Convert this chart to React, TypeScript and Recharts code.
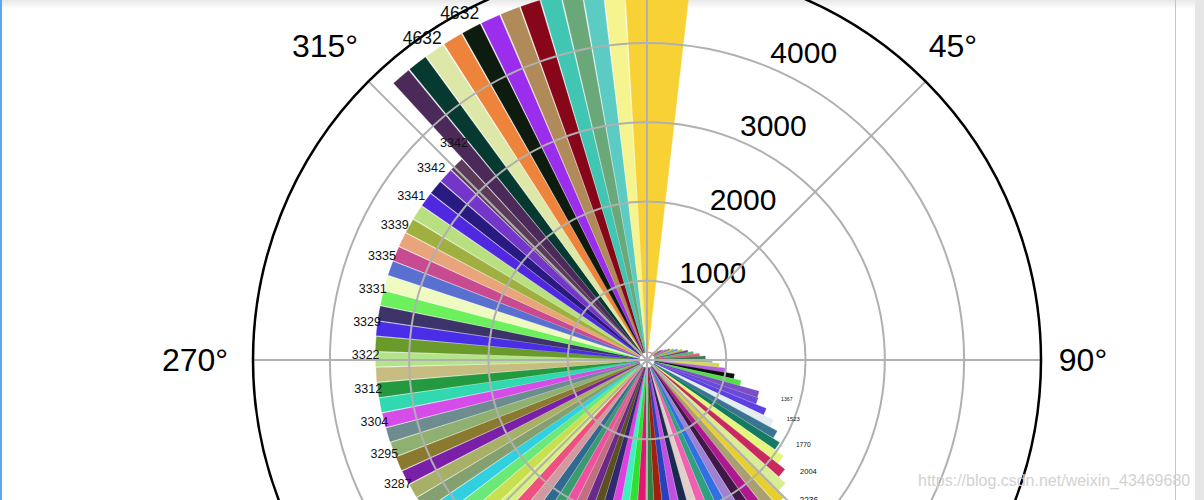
import React from "react";
import {
  RadialBarChart,
  RadialBar,
  RadarChart,
  PolarAngleAxis,
  PolarRadiusAxis,
  PolarGrid,
  LabelList,
  Cell,
  Sector,
} from "recharts";

// one bar per day, 2020-01-09 .. 2020-04-29
const dates: string[] = [
  "01-09", "01-10", "01-11", "01-12", "01-13", "01-14", "01-15", "01-16", "01-17", "01-18",
  "01-19", "01-20", "01-21", "01-22", "01-23", "01-24", "01-25", "01-26", "01-27", "01-28",
  "01-29", "01-30", "01-31",
  "02-01", "02-02", "02-03", "02-04", "02-05", "02-06", "02-07", "02-08", "02-09", "02-10",
  "02-11", "02-12", "02-13", "02-14", "02-15", "02-16", "02-17", "02-18", "02-19", "02-20",
  "02-21", "02-22", "02-23", "02-24", "02-25", "02-26", "02-27", "02-28", "02-29",
  "03-01", "03-02", "03-03", "03-04", "03-05", "03-06", "03-07", "03-08", "03-09", "03-10",
  "03-11", "03-12", "03-13", "03-14", "03-15", "03-16", "03-17", "03-18", "03-19", "03-20",
  "03-21", "03-22", "03-23", "03-24", "03-25", "03-26", "03-27", "03-28", "03-29", "03-30",
  "03-31",
  "04-01", "04-02", "04-03", "04-04", "04-05", "04-06", "04-07", "04-08", "04-09", "04-10",
  "04-11", "04-12", "04-13", "04-14", "04-15", "04-16", "04-17", "04-18", "04-19", "04-20",
  "04-21", "04-22", "04-23", "04-24", "04-25", "04-26", "04-27", "04-28", "04-29",
];

// cumulative deaths
const deaths: number[] = [
  1, 1, 1, 1, 1, 1, 2, 2, 2, 3,
  3, 6, 9, 17, 25, 41, 56, 80, 106, 132,
  170, 213, 259,
  304, 361, 425, 490, 563, 636, 722, 811, 908, 1016,
  1113, 1367, 1380, 1523, 1665, 1770, 1868, 2004, 2118, 2236,
  2345, 2442, 2592, 2663, 2715, 2744, 2788, 2835, 2870,
  2912, 2943, 2981, 3012, 3042, 3070, 3097, 3119, 3136, 3158,
  3169, 3176, 3189, 3199, 3213, 3226, 3237, 3245, 3248, 3255,
  3261, 3270, 3277, 3281, 3287, 3292, 3295, 3300, 3304, 3309,
  3312,
  3318, 3322, 3326, 3329, 3331, 3331, 3333, 3335, 3336, 3339,
  3339, 3341, 3341, 3342, 3342, 3342, 4632, 4632, 4632, 4632,
  4632, 4632, 4632, 4632, 4633, 4633, 4633, 4633, 4633,
];

const barColors: string[] = [
  "#7fc97f", "#beaed4", "#fdc086", "#386cb0", "#f0027f", "#bf5b17", "#666666", "#1b9e77", "#d95f02", "#7570b3",
  "#e7298a", "#66a61e", "#e6ab02", "#a6761d", "#4a7fd0", "#c44e8a", "#2aa8a0", "#8ad04a", "#d04a4a", "#5a3ab0",
  "#e07ad0", "#2e8f6a", "#f0a040", "#3aa0e0", "#c0c040", "#7a3a90", "#40c070", "#e05a7a", "#3b7d4a", "#9aa8e8",
  "#d2dc52", "#b060e0", "#101010", "#52e048", "#7b4fc4", "#6a4ad6", "#5b40e2", "#e4eef2", "#3a7490", "#157a62",
  "#e4f67c", "#c82a5e", "#d8ec92", "#e6d030", "#a8a070", "#b01890", "#401848", "#a080d0", "#3070e0", "#30a080",
  "#f060b0", "#e0d0c8", "#1a2a50", "#c050e0", "#2a40c0", "#a02010", "#308040", "#e01870", "#30e030", "#40f0c0",
  "#e040e0", "#302870", "#5a5020", "#6a2a8a", "#c07080", "#f050a0", "#3a9a70", "#306a90", "#d09aa0", "#f05080",
  "#d8f080", "#c8e050", "#6ce878", "#30d0e0", "#84a070", "#a8b068", "#7a1fa8", "#8a7a30", "#8fb070", "#6c8c8f",
  "#d64ce8", "#30d9b0", "#239a40", "#c8bd80", "#b4e48a", "#6a9a2a", "#4a2de6", "#3c3468", "#6cf05c", "#eefac0",
  "#5a70d0", "#c84a90", "#e8a47a", "#a0b040", "#b8e080", "#5028e0", "#281a80", "#7436c8", "#5b3a5a", "#4b2a5a",
  "#06392f", "#dde8a8", "#ee843c", "#0e1c10", "#9a2eec", "#b08a58", "#88061a", "#40c6b2", "#6aa87a", "#5ccbc4",
  "#f6f48e", "#f8d234",
];

const radiusTicks = [1000, 2000, 3000, 4000];
const angleTicks = [0, 45, 90, 135, 180, 225, 270, 315];

const FONT = '"Liberation Sans", Arial, sans-serif';
const W = 1204;
const H = 500;
const CX = 647;
const CY = 360;
const OUTER = 394;
const BAR_BOTTOM = 100; // bars start slightly off the centre
const R_MAX = (Math.max(...deaths) + BAR_BOTTOM) * 1.05;
// angular layout of the bars (degrees, clockwise from north)
const BAND = 3.26;
const FIRST_CENTER = -3.84;
const BAR_START = 90 - FIRST_CENTER - BAND / 2;
const BAR_END = BAR_START - BAND * dates.length;
const LAST = dates[dates.length - 1];

const chartData = dates.map((date, i) => ({ date, bottom: BAR_BOTTOM, deaths: deaths[i] }));
const angleData = angleTicks.map((deg) => ({ deg }));

function BarShape(props: any) {
  const { cx, cy, innerRadius, outerRadius, startAngle, endAngle, fill } = props;
  let lo = Math.min(startAngle, endAngle);
  const hi = Math.max(startAngle, endAngle);
  // the newest bar is drawn wider in the original
  if (props.payload?.date === LAST) lo -= (hi - lo) * 2.3;
  return (
    <Sector
      cx={cx}
      cy={cy}
      innerRadius={innerRadius}
      outerRadius={outerRadius}
      startAngle={lo}
      endAngle={hi}
      fill={fill}
      stroke={fill}
      strokeWidth={0.4}
    />
  );
}

function ValueLabel(props: any) {
  const { viewBox, value, index } = props;
  if (!viewBox || index % 2 !== 0) return null;
  const size = value / 265;
  if (size < 4.5) return null;
  const { cx, cy, outerRadius, startAngle, endAngle } = viewBox;
  const mid = (((startAngle + endAngle) / 2) * Math.PI) / 180;
  const r = outerRadius + 24;
  return (
    <text
      x={cx + r * Math.cos(-mid)}
      y={cy + r * Math.sin(-mid)}
      fontSize={size}
      fontFamily={FONT}
      fill="#111"
    >
      {value}
    </text>
  );
}

function AngleTick(props: any) {
  const { x, y, payload } = props;
  return (
    <text x={x - 8} y={y} textAnchor="middle" dominantBaseline="central" fontSize={32} fontFamily={FONT} fill="#000">
      {`${payload.value}°`}
    </text>
  );
}

function RadiusTick(props: any) {
  const { x, y, payload } = props;
  return (
    <text x={x + 2} y={y - 4} textAnchor="start" fontSize={30} fontFamily={FONT} fill="#000">
      {payload.value}
    </text>
  );
}

export default function App() {
  return (
    <div
      style={{
        position: "absolute",
        left: 0,
        top: 0,
        width: W,
        height: H,
        overflow: "hidden",
        background: "#fff",
      }}
    >
      <div style={{ position: "absolute", left: 0, top: 0, width: W, height: 9, background: "linear-gradient(#e8e8e8, #fff)" }} />
      <div style={{ position: "absolute", left: 0, top: 0, width: 2, height: H, background: "#5ea6ee" }} />
      <div style={{ position: "absolute", left: 1175, top: 0, width: 1, height: H, background: "#c4c4c4" }} />
      <div style={{ position: "absolute", left: 1195, top: 0, width: 9, height: H, background: "#e6e6e6" }} />

      {/* bars, radial scale and its circles */}
      <div style={{ position: "absolute", left: 0, top: 0 }}>
        <RadialBarChart
          width={W}
          height={H}
          cx={CX}
          cy={CY}
          innerRadius={0}
          outerRadius={OUTER}
          startAngle={BAR_START}
          endAngle={BAR_END}
          layout="centric"
          data={chartData}
          barCategoryGap={0}
          barGap={0}
          margin={{ top: 0, right: 0, bottom: 0, left: 0 }}
        >
          <PolarAngleAxis angleAxisId="cat" type="category" dataKey="date" tick={false} tickLine={false} axisLine={false} />
          <PolarRadiusAxis
            radiusAxisId="r"
            type="number"
            domain={[0, R_MAX]}
            allowDataOverflow
            ticks={radiusTicks}
            angle={67.5}
            axisLine={false}
            tickLine={false}
            tick={<RadiusTick />}
          />
          <RadialBar
            angleAxisId="cat"
            radiusAxisId="r"
            dataKey="bottom"
            stackId="a"
            fill="transparent"
            isAnimationActive={false}
          />
          <RadialBar
            angleAxisId="cat"
            radiusAxisId="r"
            dataKey="deaths"
            stackId="a"
            shape={BarShape}
            isAnimationActive={false}
          >
            {chartData.map((d, i) => (
              <Cell key={d.date} fill={barColors[i]} />
            ))}
            <LabelList dataKey="deaths" content={ValueLabel} />
          </RadialBar>
          <PolarGrid
            angleAxisId="cat"
            radiusAxisId="r"
            gridType="circle"
            radialLines={false}
            stroke="#b0b0b0"
            strokeWidth={2}
            zIndex={600}
          />
        </RadialBarChart>
      </div>

      {/* degree axis: spokes, outer ring, angle labels */}
      <div style={{ position: "absolute", left: 0, top: 0 }}>
        <RadarChart
          width={W}
          height={H}
          cx={CX}
          cy={CY}
          innerRadius={0}
          outerRadius={OUTER}
          startAngle={90}
          endAngle={-270}
          data={angleData}
          margin={{ top: 0, right: 0, bottom: 0, left: 0 }}
        >
          <PolarGrid gridType="circle" polarRadius={[]} stroke="#b0b0b0" strokeWidth={2} />
          <PolarAngleAxis
            dataKey="deg"
            tick={<AngleTick />}
            tickLine={false}
            tickSize={50}
            axisLineType="circle"
            axisLine={{ stroke: "#000", strokeWidth: 2.5 }}
          />
        </RadarChart>
      </div>

      <div
        style={{
          position: "absolute",
          left: 918,
          top: 472,
          fontFamily: FONT,
          fontSize: 16,
          color: "#d2d2d2",
          whiteSpace: "nowrap",
        }}
      >
        https://blog.csdn.net/weixin_43469680
      </div>
    </div>
  );
}
